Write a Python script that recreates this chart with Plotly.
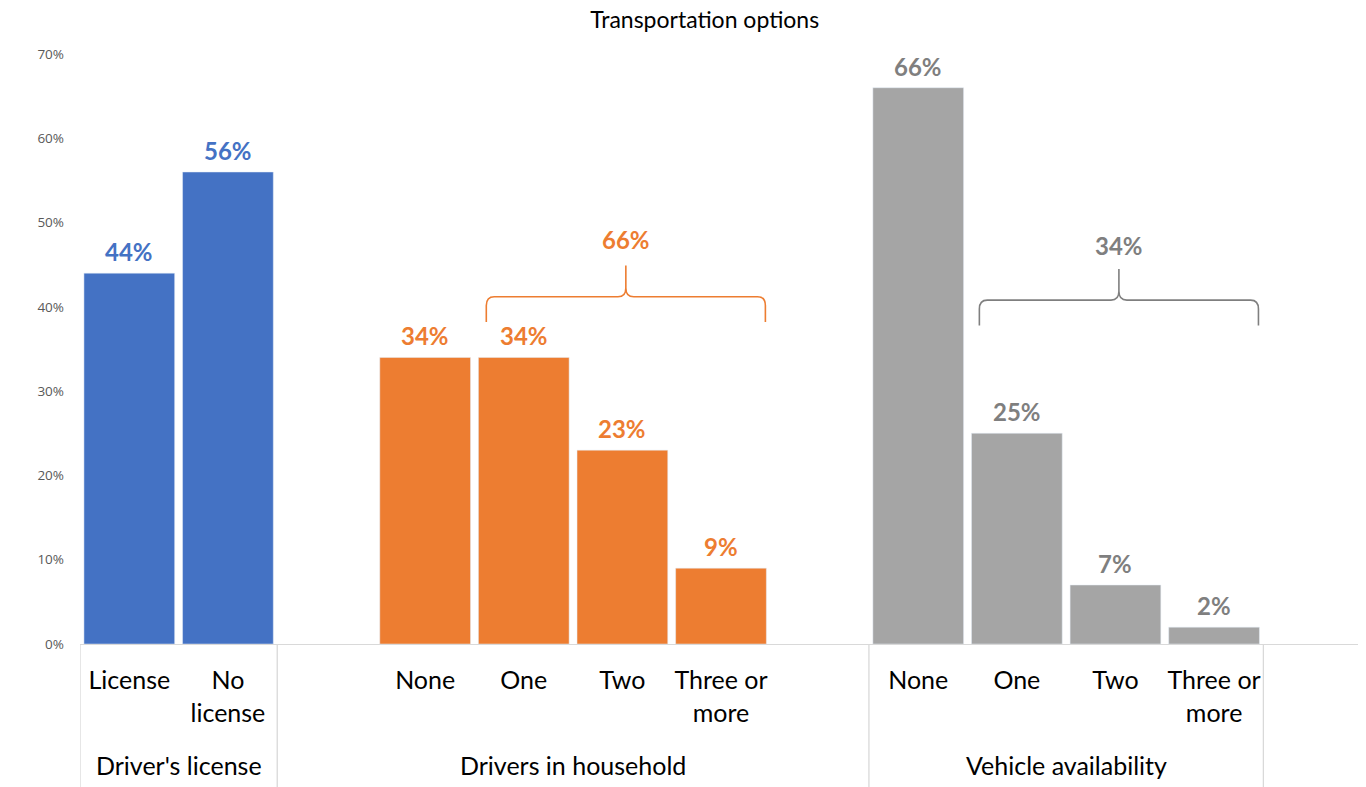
import plotly.graph_objects as go

title = "Transportation options"
group_names = ["Driver's license", "Drivers in household", "Vehicle availability"]
license_cats = ["License", "No<br>license"]
license_vals = [44, 56]
drivers_cats = ["None", "One", "Two", "Three or<br>more"]
drivers_vals = [34, 34, 23, 9]
vehicle_cats = ["None", "One", "Two", "Three or<br>more"]
vehicle_vals = [66, 25, 7, 2]
y_ticks = [0, 10, 20, 30, 40, 50, 60, 70]

colors = ["#4472C4", "#ED7D31", "#A5A5A5"]
label_colors = ["#4472C4", "#ED7D31", "#7F7F7F"]
FONT = "Lato, 'Open Sans', sans-serif"

# slot layout: group starts (blank slots between groups)
groups = [
    (license_cats, license_vals, 0),
    (drivers_cats, drivers_vals, 3),
    (vehicle_cats, vehicle_vals, 8),
]
group_bounds = [(-0.5, 1.5), (1.5, 7.5), (7.5, 11.5)]
n_slots = 13

fig = go.Figure()
tickvals, ticktext = [], []
annotations = []
for gi, (cats, vals, start) in enumerate(groups):
    xs = [start + i for i in range(len(cats))]
    tickvals += xs
    ticktext += cats
    fig.add_trace(go.Bar(x=xs, y=vals, marker_color=colors[gi], width=0.92,
                         showlegend=False, hoverinfo="skip"))
    for x, v in zip(xs, vals):
        annotations.append(dict(x=x, y=v, text=f"<b>{v}%</b>", showarrow=False,
                                yanchor="bottom", yshift=5, xref="x", yref="y",
                                font=dict(size=24, color=label_colors[gi], family=FONT)))
    lo, hi = group_bounds[gi]
    annotations.append(dict(x=(lo + hi) / 2, y=0, xref="x", yref="paper", yanchor="middle",
                            yshift=-121, text=group_names[gi], showarrow=False,
                            font=dict(size=25, color="#000000", family=FONT)))

shapes = []
# category dividers below axis
for b in [-0.5, 1.5, 7.5, 11.5]:
    shapes.append(dict(type="line", xref="x", yref="paper", x0=b, x1=b, y0=0, y1=-0.25,
                       line=dict(color="#D9D9D9", width=1.3)))


def bracket(x0, x1, yh, yend, ypeak, color):
    xm = (x0 + x1) / 2
    dx = 0.08
    dy = (yh - yend) * 0.35
    p = (f"M {x0},{yend} L {x0},{yh - dy} Q {x0},{yh} {x0 + dx},{yh} "
         f"L {xm - dx},{yh} Q {xm},{yh} {xm},{yh + dy} L {xm},{ypeak} "
         f"M {xm},{yh + dy} Q {xm},{yh} {xm + dx},{yh} "
         f"L {x1 - dx},{yh} Q {x1},{yh} {x1},{yh - dy} L {x1},{yend}")
    return dict(type="path", path=p, xref="x", yref="y", line=dict(color=color, width=1.6))


# brackets over "one or more" categories
for gi, yh, lab_y in [(1, 41.2, 48.0), (2, 40.8, 47.3)]:
    cats, vals, start = groups[gi]
    first, last = start + 1, start + len(cats) - 1
    total = sum(vals[1:])
    x0, x1 = first - 0.38, last + 0.45
    shapes.append(bracket(x0, x1, yh, yh - 3.0, yh + 3.7, label_colors[gi]))
    annotations.append(dict(x=(x0 + x1) / 2, y=lab_y, xref="x", yref="y", showarrow=False,
                            text=f"<b>{total}%</b>", yanchor="middle",
                            font=dict(size=24, color=label_colors[gi], family=FONT)))

fig.update_layout(
    width=1358, height=779,
    margin=dict(l=72, r=4, t=46, b=143),
    plot_bgcolor="white", paper_bgcolor="white",
    title=dict(text=title, x=0.513, xanchor="center", y=1, yref="container", yanchor="top",
               pad=dict(t=4, b=0), font=dict(size=23, color="#000000", family=FONT)),
    bargap=0.08,
    xaxis=dict(range=[-0.5, n_slots - 0.5], tickvals=tickvals, ticktext=ticktext,
               showgrid=False, zeroline=False, showline=True, linecolor="#D9D9D9", linewidth=1.3,
               ticks="", tickfont=dict(size=25, color="#000000", family=FONT),
               ticklabelstandoff=14, fixedrange=True),
    yaxis=dict(range=[0, 70], tickvals=y_ticks, ticktext=[f"{t}%" for t in y_ticks],
               showgrid=False, zeroline=False, showline=False, ticks="",
               tickfont=dict(size=13.5, color="#595959", family="'Open Sans', sans-serif"),
               ticklabelstandoff=15, fixedrange=True),
    shapes=shapes,
    annotations=annotations,
)

fig.write_html("out.html")
